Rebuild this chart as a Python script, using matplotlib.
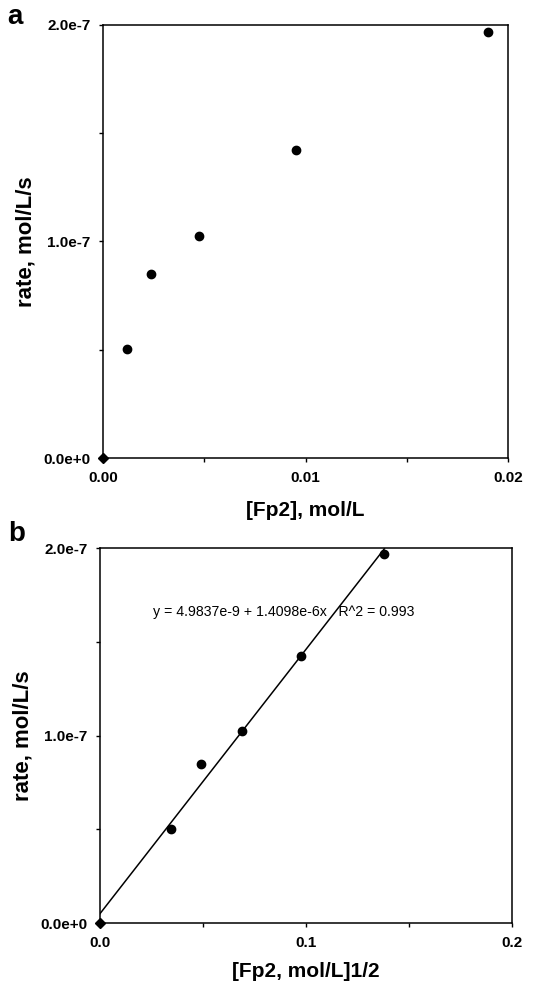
import numpy as np
import matplotlib
matplotlib.use("Agg")
from matplotlib import pyplot as plt
from matplotlib.ticker import MultipleLocator, FixedLocator

plt.rcParams['font.family'] = ['Liberation Sans', 'DejaVu Sans']

# data
conc = [0.0, 0.00119, 0.00238, 0.00476, 0.00952, 0.0190]      # [Fp2], mol/L
rate = [0.0, 5.03e-8, 8.5e-8, 1.025e-7, 1.423e-7, 1.968e-7]    # mol/L/s
sqrt_conc = [0.0, 0.0345, 0.0488, 0.069, 0.0976, 0.138]        # [Fp2]^1/2
fit_a = 4.9837e-9
fit_b = 1.4098e-6
eq_text = "y = 4.9837e-9 + 1.4098e-6x   R^2 = 0.993"

W, H = 547, 988
fig = plt.figure(figsize=(W / 100, H / 100), dpi=100)

def style(ax, xmax, xmajor, xminor, xfmt):
    ax.set_xlim(0, xmax)
    ax.set_ylim(0, 2e-7)
    ax.xaxis.set_major_locator(MultipleLocator(xmajor))
    ax.xaxis.set_minor_locator(MultipleLocator(xminor))
    ax.yaxis.set_major_locator(FixedLocator([0, 1e-7, 2e-7]))
    ax.yaxis.set_minor_locator(FixedLocator([0.5e-7, 1.5e-7]))
    ax.set_xticklabels([xfmt.format(v) for v in ax.get_xticks()])
    ax.set_yticklabels(["0.0e+0", "1.0e-7", "2.0e-7"])
    for s in ax.spines.values():
        s.set_linewidth(1.1)
    ax.tick_params(which='major', direction='out', length=3, width=1, labelsize=11, pad=6)
    ax.tick_params(which='minor', direction='out', length=3, width=1)
    for lab in ax.get_xticklabels() + ax.get_yticklabels():
        lab.set_fontweight('bold')
    ax.set_ylabel("rate, mol/L/s", fontsize=16, fontweight='bold', labelpad=5)

# panel a
ax1 = fig.add_axes([103 / W, 1 - 458 / H, 405 / W, 433 / H])
ax1.plot(conc[1:], rate[1:], 'o', color='black', markersize=6, clip_on=False)
ax1.plot(conc[:1], rate[:1], 'D', color='black', markersize=5, clip_on=False)
style(ax1, 0.02, 0.01, 0.005, "{:.2f}")
ax1.set_xlabel("[Fp2], mol/L", fontsize=15, fontweight='bold', labelpad=12)
fig.text(15 / W, 1 - 17 / H, "a", fontsize=20, fontweight='bold', ha='center', va='center')

# panel b
ax2 = fig.add_axes([100 / W, 1 - 923 / H, 412 / W, 375 / H])
xs = np.array([0.0, max(sqrt_conc)])
ax2.plot(xs, fit_a + fit_b * xs, color='black', linewidth=1.1)
ax2.plot(sqrt_conc[1:], rate[1:], 'o', color='black', markersize=6, clip_on=False)
ax2.plot(sqrt_conc[:1], rate[:1], 'D', color='black', markersize=5, clip_on=False)
style(ax2, 0.2, 0.1, 0.05, "{:.1f}")
ax2.set_xlabel("[Fp2, mol/L]1/2", fontsize=15, fontweight='bold', labelpad=9)
ax2.text(0.0257, 1.66e-7, eq_text, fontsize=10.2, ha='left', va='center')
fig.text(17 / W, 1 - 534 / H, "b", fontsize=20, fontweight='bold', ha='center', va='center')

fig.savefig("out.png", dpi=100)
